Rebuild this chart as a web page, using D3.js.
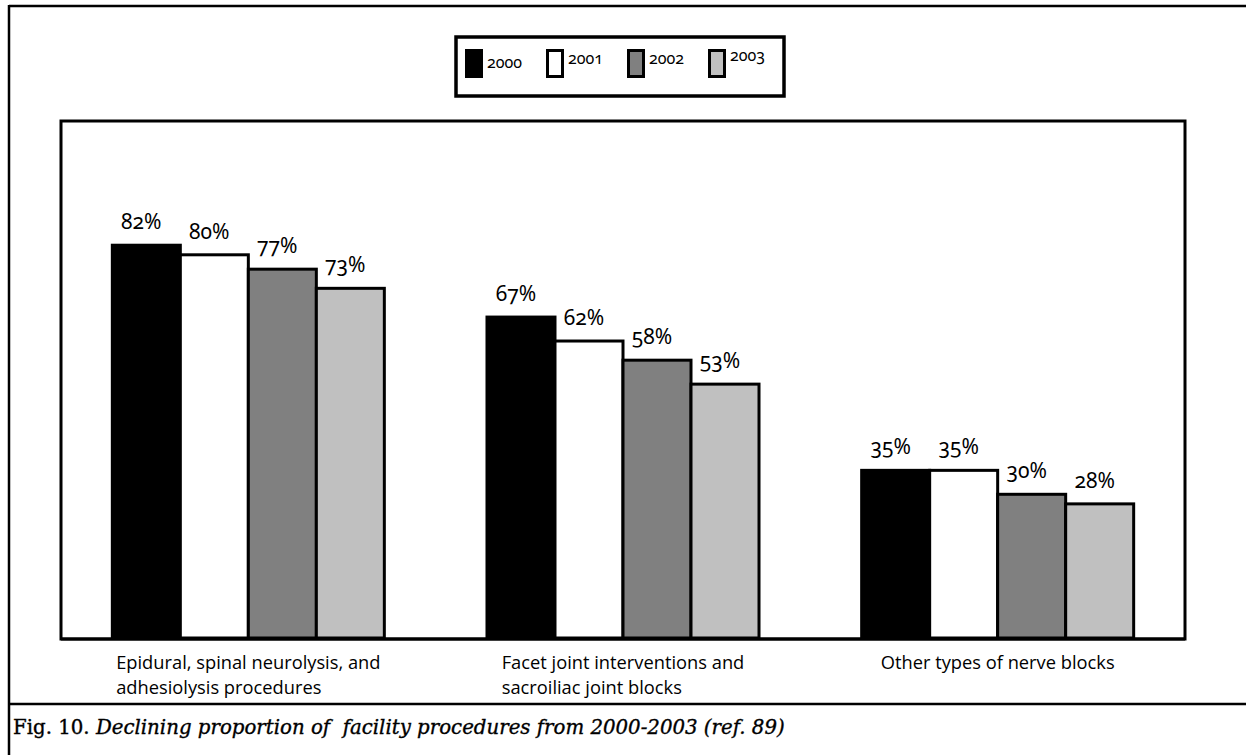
<!DOCTYPE html>
<html>
<head>
<meta charset="utf-8">
<script src="https://cdn.jsdelivr.net/npm/d3@7"></script>
<style>
  html, body { margin: 0; padding: 0; background: #fff; }
  svg { display: block; }
  .num { font-family: "Noto Sans", "Open Sans", sans-serif; font-variant-numeric: oldstyle-nums; font-feature-settings: "onum" 1; }
  .cat { font-family: "Open Sans", "Noto Sans", sans-serif; }
  .cap { font-family: "DejaVu Serif", "Liberation Serif", serif; }
</style>
</head>
<body>
<svg id="chart" width="1246" height="755"></svg>
<script>
// Procedure groups (two-line labels)
const categories = [
  ["Epidural, spinal neurolysis, and", "adhesiolysis procedures"],
  ["Facet joint interventions and", "sacroiliac joint blocks"],
  ["Other types of nerve blocks"]
];
const years = ["2000", "2001", "2002", "2003"];
const fills = ["#000000", "#ffffff", "#808080", "#c0c0c0"];

// Percent of facility procedures per group, one array per year
const v2000 = [82, 67, 35];
const v2001 = [80, 62, 35];
const v2002 = [77, 58, 30];
const v2003 = [73, 53, 28];
const series = [v2000, v2001, v2002, v2003];

const svg = d3.select("#chart");
const W = 1246, H = 755;

// Outer figure frame
svg.append("line").attr("x1", 9).attr("x2", W).attr("y1", 6).attr("y2", 6)
  .attr("stroke", "#000").attr("stroke-width", 2.5);
svg.append("line").attr("x1", 9).attr("x2", 9).attr("y1", 5).attr("y2", H)
  .attr("stroke", "#000").attr("stroke-width", 2.5);
svg.append("line").attr("x1", 9).attr("x2", W).attr("y1", 704).attr("y2", 704)
  .attr("stroke", "#000").attr("stroke-width", 2.5);

// Plot area
const plot = { left: 61, right: 1185, top: 121, bottom: 639 };

const x0 = d3.scaleBand()
  .domain(d3.range(categories.length))
  .range([plot.left, plot.right])
  .paddingInner(0.274)
  .paddingOuter(0.137);

const x1 = d3.scaleBand()
  .domain(years)
  .range([0, x0.bandwidth()]);

const y = d3.scaleLinear().domain([0, 100]).range([plot.bottom - 1, 159]);

svg.append("rect")
  .attr("x", plot.left).attr("y", plot.top)
  .attr("width", plot.right - plot.left).attr("height", plot.bottom - plot.top)
  .attr("fill", "#fff").attr("stroke", "#000").attr("stroke-width", 3);

const groups = svg.selectAll("g.grp")
  .data(categories.map((c, i) => i))
  .join("g").attr("class", "grp")
  .attr("transform", i => `translate(${x0(i)},0)`);

groups.selectAll("rect")
  .data(i => years.map((yr, k) => ({ yr, k, v: series[k][i] })))
  .join("rect")
  .attr("x", d => x1(d.yr))
  .attr("y", d => y(d.v))
  .attr("width", x1.bandwidth())
  .attr("height", d => y(0) - y(d.v))
  .attr("fill", d => fills[d.k])
  .attr("stroke", "#000").attr("stroke-width", 3);

groups.selectAll("text.val")
  .data(i => years.map((yr, k) => ({ yr, k, v: series[k][i] })))
  .join("text")
  .attr("class", "val num")
  .attr("x", d => x1(d.yr) + x1.bandwidth() / 2 - 5)
  .attr("y", d => y(d.v) - 16)
  .attr("text-anchor", "middle")
  .attr("font-size", 21)
  .attr("fill", "#000")
  .text(d => d.v + "%");

// Redraw the baseline over the bar bottoms
svg.append("line")
  .attr("x1", plot.left).attr("x2", plot.right)
  .attr("y1", plot.bottom).attr("y2", plot.bottom)
  .attr("stroke", "#000").attr("stroke-width", 3);

// Category labels: block centred under each group, lines left-aligned
categories.forEach((lines, i) => {
  const g = svg.append("g");
  const texts = lines.map((ln, j) => g.append("text")
    .attr("class", "cat")
    .attr("y", 669 + j * 25)
    .attr("font-size", 18.3)
    .attr("fill", "#000")
    .text(ln));
  const wmax = d3.max(texts, t => t.node().getComputedTextLength());
  const cx = x0(i) + x0.bandwidth() / 2;
  texts.forEach(t => t.attr("x", cx - wmax / 2));
});

// Legend
const legend = svg.append("g");
legend.append("rect")
  .attr("x", 456).attr("y", 37).attr("width", 328).attr("height", 59)
  .attr("fill", "#fff").attr("stroke", "#000").attr("stroke-width", 3.5);

const legX = d3.scalePoint().domain(years).range([465, 708]);
const labelDy = [68, 64, 64, 61];
const items = legend.selectAll("g.item").data(years).join("g").attr("class", "item");
items.append("rect")
  .attr("x", d => legX(d) + 1.5).attr("y", 50.5)
  .attr("width", 15).attr("height", 26)
  .attr("fill", (d, k) => fills[k])
  .attr("stroke", "#000").attr("stroke-width", 3);
items.append("text")
  .attr("class", "num")
  .attr("x", d => legX(d) + 22)
  .attr("y", (d, k) => labelDy[k])
  .attr("font-size", 16)
  .attr("fill", "#000")
  .text(d => d);

// Caption
const cap = svg.append("text")
  .attr("class", "cap")
  .attr("x", 13).attr("y", 734)
  .attr("font-size", 19)
  .attr("fill", "#000")
  .attr("stroke", "#000").attr("stroke-width", 0.35);
cap.append("tspan").text("Fig. 10. ");
cap.append("tspan").attr("font-style", "italic")
  .text("Declining proportion of\u00a0 facility procedures from 2000-2003 (ref. 89)");
// Fit caption to its column width
const capW = cap.node().getComputedTextLength();
cap.attr("font-size", 19 * 772 / capW);
</script>
</body>
</html>
